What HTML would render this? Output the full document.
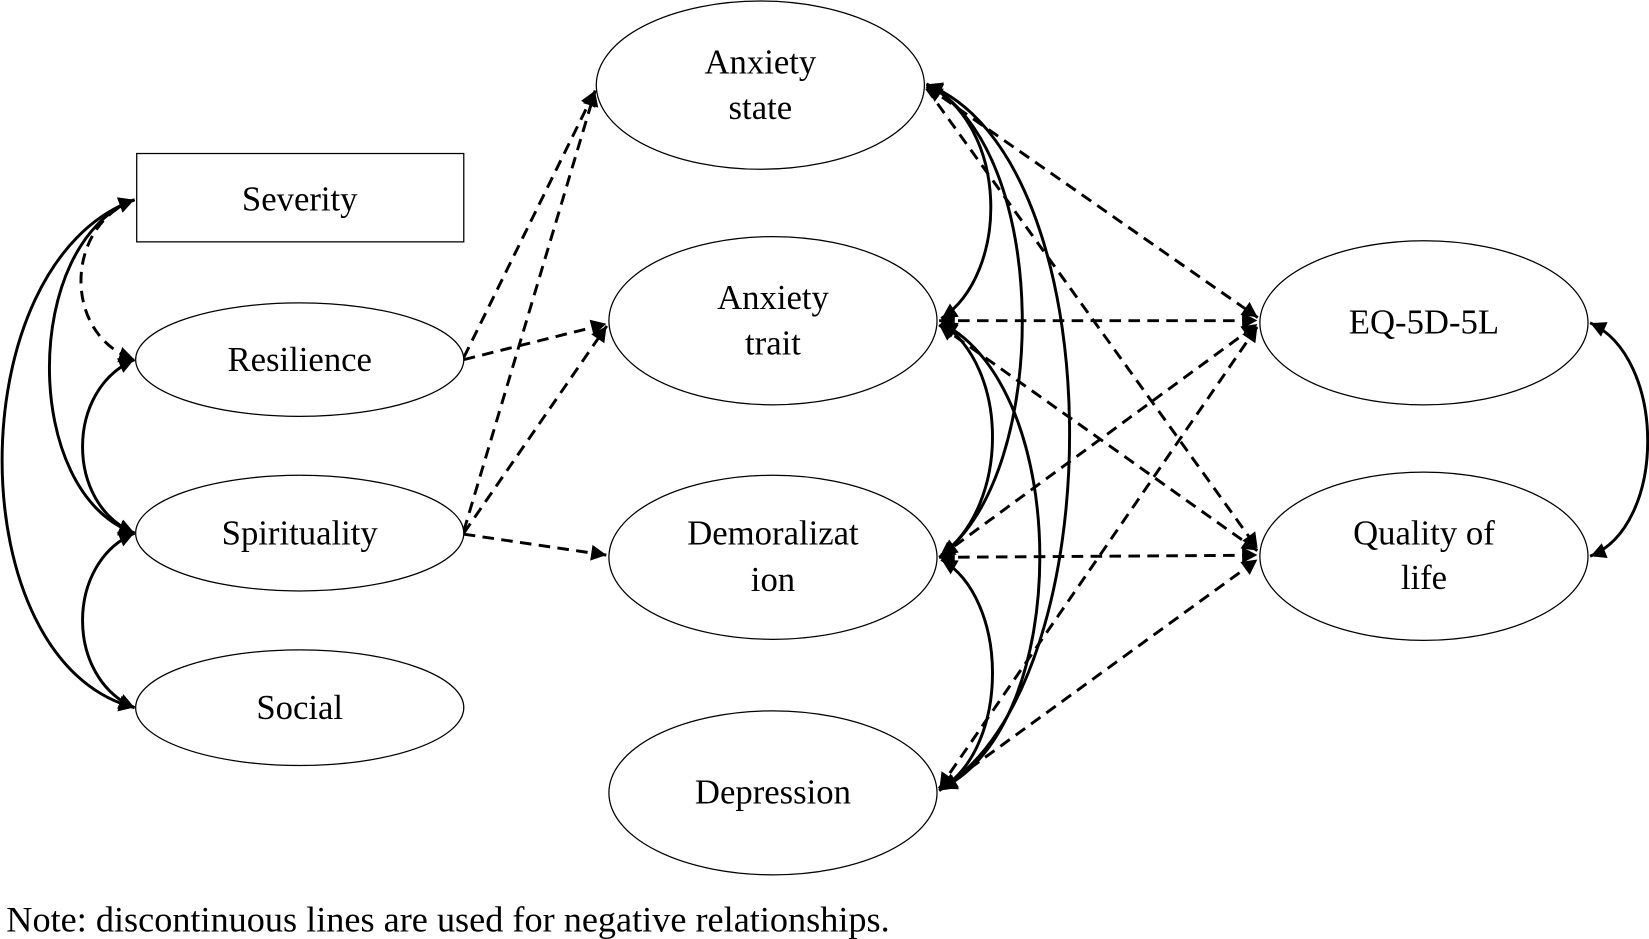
<!DOCTYPE html>
<html><head><meta charset="utf-8"><style>html,body{margin:0;padding:0;background:#fff}svg{display:block}</style></head>
<body>
<svg width="1649" height="939" viewBox="0 0 1568 893" preserveAspectRatio="none" xmlns="http://www.w3.org/2000/svg">
<defs>
<marker id="a" viewBox="0 0 10 10" refX="9" refY="5" markerWidth="6" markerHeight="6" orient="auto-start-reverse" markerUnits="userSpaceOnUse" style="overflow:visible">
<path d="M-12,-6 L9,5 L-12,16 z" transform="translate(-2,-1) scale(1.15)" fill="#000"/></marker>
</defs>
<style>
text{font-family:"Liberation Serif",serif;font-size:33px;text-anchor:middle;fill:#000}
.n{fill:#fff;stroke:#000;stroke-width:1.2}
.s{fill:none;stroke:#000;stroke-width:2.8}
.d{fill:none;stroke:#000;stroke-width:2.8;stroke-dasharray:11 7}
</style>
<path class="s" d="M128,190 C20,230 20,470 128,507" marker-start="url(#a)" marker-end="url(#a)"/>
<path class="s" d="M128,190 C-40,250 -40,630 128,673" marker-start="url(#a)" marker-end="url(#a)"/>
<path class="d" d="M128,190 C60,215 60,320 128,342" marker-start="url(#a)" marker-end="url(#a)"/>
<path class="s" d="M128,342 C62,370 62,480 128,507" marker-start="url(#a)" marker-end="url(#a)"/>
<path class="s" d="M128,507 C62,535 62,645 128,673" marker-start="url(#a)" marker-end="url(#a)"/>
<line class="d" x1="441" y1="340" x2="566" y2="86" marker-end="url(#a)"/>
<line class="d" x1="441" y1="342" x2="577" y2="308" marker-end="url(#a)"/>
<line class="d" x1="441" y1="505" x2="566" y2="86" marker-end="url(#a)"/>
<line class="d" x1="441" y1="507" x2="577" y2="310" marker-end="url(#a)"/>
<line class="d" x1="441" y1="508" x2="577" y2="528" marker-end="url(#a)"/>
<line class="d" x1="881" y1="82" x2="1196" y2="302" marker-start="url(#a)" marker-end="url(#a)"/>
<line class="d" x1="881" y1="84" x2="1196" y2="522" marker-end="url(#a)"/>
<line class="d" x1="893" y1="305" x2="1196" y2="305" marker-start="url(#a)" marker-end="url(#a)"/>
<line class="d" x1="893" y1="309" x2="1196" y2="524" marker-start="url(#a)" marker-end="url(#a)"/>
<line class="d" x1="893" y1="530" x2="1196" y2="308" marker-start="url(#a)" marker-end="url(#a)"/>
<line class="d" x1="893" y1="530" x2="1196" y2="528" marker-start="url(#a)" marker-end="url(#a)"/>
<line class="d" x1="893" y1="750" x2="1196" y2="310" marker-start="url(#a)" marker-end="url(#a)"/>
<line class="d" x1="893" y1="752" x2="1196" y2="532" marker-start="url(#a)" marker-end="url(#a)"/>
<path class="s" d="M881,80 C960,120 960,260 895,303" marker-start="url(#a)" marker-end="url(#a)"/>
<path class="s" d="M881,80 C1000,140 1000,450 895,528" marker-start="url(#a)" marker-end="url(#a)"/>
<path class="s" d="M881,80 C1060,150 1060,650 895,750" marker-start="url(#a)" marker-end="url(#a)"/>
<path class="s" d="M895,307 C960,350 960,480 895,528" marker-start="url(#a)" marker-end="url(#a)"/>
<path class="s" d="M895,307 C1020,370 1020,690 895,750" marker-start="url(#a)" marker-end="url(#a)"/>
<path class="s" d="M895,532 C960,570 960,710 895,750" marker-start="url(#a)" marker-end="url(#a)"/>
<path class="s" d="M1512,307 C1585,340 1585,500 1512,529" marker-start="url(#a)" marker-end="url(#a)"/>
<rect class="n" x="130" y="146" width="311" height="84"/>
<text x="285" y="200">Severity</text>
<ellipse class="n" cx="285" cy="342" rx="156" ry="54"/><text x="285" y="353">Resilience</text>
<ellipse class="n" cx="285" cy="507" rx="156" ry="55"/><text x="285" y="518">Spirituality</text>
<ellipse class="n" cx="285" cy="673" rx="156" ry="55"/><text x="285" y="684">Social</text>
<ellipse class="n" cx="723" cy="81" rx="156" ry="80"/><text x="723" y="70">Anxiety</text><text x="723" y="113">state</text>
<ellipse class="n" cx="735" cy="305" rx="156" ry="80"/><text x="735" y="294">Anxiety</text><text x="735" y="337">trait</text>
<ellipse class="n" cx="735" cy="530" rx="156" ry="78"/><text x="735" y="518">Demoralizat</text><text x="735" y="562">ion</text>
<ellipse class="n" cx="735" cy="754" rx="156" ry="78"/><text x="735" y="764">Depression</text>
<ellipse class="n" cx="1354" cy="307" rx="156" ry="78"/><text x="1354" y="317">EQ-5D-5L</text>
<ellipse class="n" cx="1354" cy="529" rx="156" ry="80"/><text x="1354" y="518">Quality of</text><text x="1354" y="560">life</text>
<text x="6" y="886" style="text-anchor:start;font-size:34px" textLength="840" lengthAdjust="spacingAndGlyphs">Note: discontinuous lines are used for negative relationships.</text>
</svg>
</body></html>
